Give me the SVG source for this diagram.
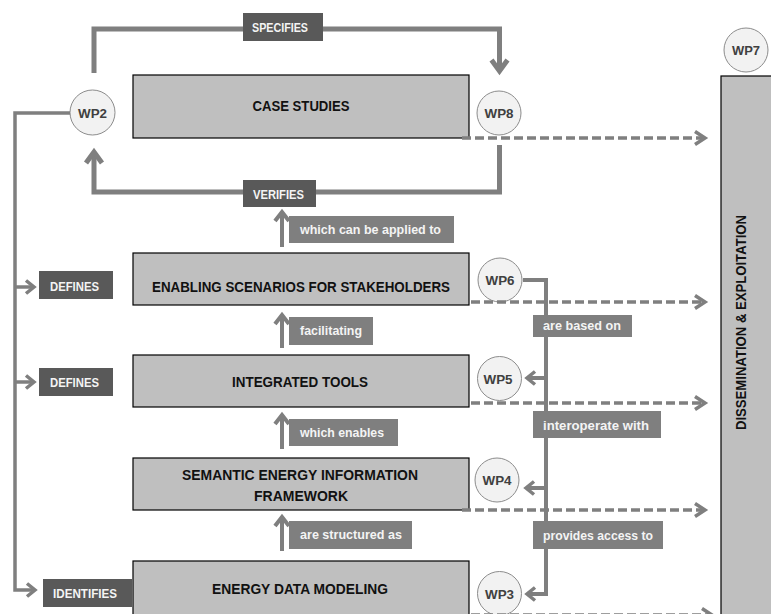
<svg xmlns="http://www.w3.org/2000/svg" width="771" height="614" viewBox="0 0 771 614">
<style>
.box{fill:#bfbfbf;stroke:#000;stroke-width:1.2}
.title{font-family:"Liberation Sans",Arial,sans-serif;font-weight:bold;font-size:14px;fill:#111;text-anchor:middle}
.wp circle{fill:#f2f2f2;stroke:#8c8c8c;stroke-width:1}
.wp text{font-family:"Liberation Sans",Arial,sans-serif;font-weight:bold;font-size:13.5px;fill:#404040;text-anchor:middle}
.ld rect{fill:#595959}
.lm rect{fill:#7f7f7f}
.lt{font-family:"Liberation Sans",Arial,sans-serif;font-weight:bold;font-size:13px;fill:#f4f4f4}
.c{fill:none;stroke:#7f7f7f}
.w5{stroke-width:5}
.w4{stroke-width:4}
.w35{stroke-width:3.5}
.dash{stroke-width:3.5;stroke-dasharray:9 4}
.mk{fill:none;stroke:#7f7f7f;stroke-linejoin:miter}
</style>
<defs>
<marker id="big" markerUnits="userSpaceOnUse" viewBox="-14 -12 20 24" markerWidth="20" markerHeight="24" refX="0" refY="0" orient="auto"><path class="mk" d="M-11,-8 L0,0 L-11,8" stroke-width="5"/></marker>
<marker id="mid" markerUnits="userSpaceOnUse" viewBox="-14 -12 20 24" markerWidth="20" markerHeight="24" refX="0" refY="0" orient="auto"><path class="mk" d="M-9,-7 L0,0 L-9,7" stroke-width="4"/></marker>
<marker id="dsh" markerUnits="userSpaceOnUse" viewBox="-14 -12 20 24" markerWidth="20" markerHeight="24" refX="0" refY="0" orient="auto"><path class="mk" d="M-10,-6.5 L0,0 L-10,6.5" stroke-width="3.5"/></marker>
<marker id="sml" markerUnits="userSpaceOnUse" viewBox="-14 -12 20 24" markerWidth="20" markerHeight="24" refX="0" refY="0" orient="auto"><path class="mk" d="M-8,-6.5 L0,0 L-8,6.5" stroke-width="3.5"/></marker>
</defs>
<rect width="771" height="614" fill="#fff"/>

<g id="case-studies"><rect class="box" x="133" y="75" width="336" height="63"/><text class="title" x="301" y="110.5" textLength="97" lengthAdjust="spacingAndGlyphs">CASE STUDIES</text></g>
<g id="enabling-scenarios"><rect class="box" x="133" y="253" width="336" height="52"/><text class="title" x="301" y="292" textLength="298" lengthAdjust="spacingAndGlyphs">ENABLING SCENARIOS FOR STAKEHOLDERS</text></g>
<g id="integrated-tools"><rect class="box" x="133" y="355" width="336" height="52"/><text class="title" x="300" y="387" textLength="136" lengthAdjust="spacingAndGlyphs">INTEGRATED TOOLS</text></g>
<g id="semantic-framework"><rect class="box" x="133" y="458" width="336" height="52"/><text class="title" x="300" y="480" textLength="236" lengthAdjust="spacingAndGlyphs">SEMANTIC ENERGY INFORMATION</text><text class="title" x="301" y="501" textLength="94" lengthAdjust="spacingAndGlyphs">FRAMEWORK</text></g>
<g id="energy-data-modeling"><rect class="box" x="133" y="561" width="336" height="60"/><text class="title" x="300" y="594" textLength="176" lengthAdjust="spacingAndGlyphs">ENERGY DATA MODELING</text></g>
<g id="dissemination"><rect class="box" x="721" y="76" width="60" height="550"/><text class="title" x="746" y="322.5" transform="rotate(-90 746 322.5)" textLength="215" lengthAdjust="spacingAndGlyphs">DISSEMINATION &amp; EXPLOITATION</text></g>

<g id="wp2" class="wp"><circle cx="92.5" cy="112.5" r="22.5"/><text x="92.5" y="117.5" textLength="29" lengthAdjust="spacingAndGlyphs">WP2</text></g>
<g id="wp8" class="wp"><circle cx="499" cy="113" r="22"/><text x="499" y="118" textLength="29" lengthAdjust="spacingAndGlyphs">WP8</text></g>
<g id="wp7" class="wp"><circle cx="746" cy="50" r="22"/><text x="746" y="55" textLength="28" lengthAdjust="spacingAndGlyphs">WP7</text></g>
<g id="wp6" class="wp"><circle cx="500" cy="280" r="22"/><text x="500" y="285" textLength="29" lengthAdjust="spacingAndGlyphs">WP6</text></g>
<g id="wp5" class="wp"><circle cx="499.5" cy="378.5" r="22"/><text x="498" y="383.5" textLength="29" lengthAdjust="spacingAndGlyphs">WP5</text></g>
<g id="wp4" class="wp"><circle cx="497" cy="480" r="22"/><text x="497" y="485" textLength="29" lengthAdjust="spacingAndGlyphs">WP4</text></g>
<g id="wp3" class="wp"><circle cx="499.5" cy="593.5" r="22"/><text x="499.5" y="598.5" textLength="29" lengthAdjust="spacingAndGlyphs">WP3</text></g>

<g id="connectors">
<path class="c w5" d="M94,73 V29 H499.5 V71" marker-end="url(#big)"/>
<path class="c w5" d="M499.5,145 V192 H94 V152" marker-end="url(#big)"/>
<path class="c w35" d="M70,113 H15 V590 H35" marker-end="url(#sml)"/>
<path class="c w35" d="M15,287 H34" marker-end="url(#sml)"/>
<path class="c w35" d="M15,382 H34" marker-end="url(#sml)"/>
<path class="c w4" d="M282,247 V212" marker-end="url(#mid)"/>
<path class="c w4" d="M282,348 V315" marker-end="url(#mid)"/>
<path class="c w4" d="M282,449 V415" marker-end="url(#mid)"/>
<path class="c w4" d="M282,551 V517" marker-end="url(#mid)"/>
<path class="c dash" d="M462,138 H705" marker-end="url(#dsh)"/>
<path class="c dash" d="M471,302 H705" marker-end="url(#dsh)"/>
<path class="c dash" d="M471,403 H705" marker-end="url(#dsh)"/>
<path class="c dash" d="M462,510 H705" marker-end="url(#dsh)"/>
<path class="c dash" d="M471,615 H712" marker-end="url(#dsh)"/>
<path class="c w4" d="M523,280 H546 V594 H527" marker-end="url(#sml)"/>
<path class="c w4" d="M546,378 H527" marker-end="url(#sml)"/>
<path class="c w4" d="M546,488 H526" marker-end="url(#sml)"/>
</g>

<g id="lbl-specifies" class="ld"><rect x="243" y="13" width="80" height="28"/><text class="lt" x="252" y="31.5" textLength="56" lengthAdjust="spacingAndGlyphs">SPECIFIES</text></g>
<g id="lbl-verifies" class="ld"><rect x="243" y="180" width="73" height="27"/><text class="lt" x="253" y="199" textLength="51" lengthAdjust="spacingAndGlyphs">VERIFIES</text></g>
<g id="lbl-defines-1" class="ld"><rect x="39" y="271" width="74" height="28"/><text class="lt" x="50" y="291" textLength="49" lengthAdjust="spacingAndGlyphs">DEFINES</text></g>
<g id="lbl-defines-2" class="ld"><rect x="39" y="368" width="74" height="28"/><text class="lt" x="50" y="386.5" textLength="49" lengthAdjust="spacingAndGlyphs">DEFINES</text></g>
<g id="lbl-identifies" class="ld"><rect x="43" y="579" width="89" height="28"/><text class="lt" x="53" y="598" textLength="64" lengthAdjust="spacingAndGlyphs">IDENTIFIES</text></g>
<g id="lbl-applied" class="lm"><rect x="289" y="216" width="165" height="27"/><text class="lt" x="300" y="234" textLength="141" lengthAdjust="spacingAndGlyphs">which can be applied to</text></g>
<g id="lbl-facilitating" class="lm"><rect x="289" y="317" width="84" height="28"/><text class="lt" x="300" y="335" textLength="62" lengthAdjust="spacingAndGlyphs">facilitating</text></g>
<g id="lbl-enables" class="lm"><rect x="289" y="419" width="109" height="27"/><text class="lt" x="300" y="437" textLength="84" lengthAdjust="spacingAndGlyphs">which enables</text></g>
<g id="lbl-structured" class="lm"><rect x="289" y="521" width="123" height="28"/><text class="lt" x="300" y="539" textLength="102" lengthAdjust="spacingAndGlyphs">are structured as</text></g>
<g id="lbl-based" class="lm"><rect x="533" y="315" width="99" height="22"/><text class="lt" x="543" y="330" textLength="78" lengthAdjust="spacingAndGlyphs">are based on</text></g>
<g id="lbl-interoperate" class="lm"><rect x="533" y="411" width="128" height="27"/><text class="lt" x="543" y="429.5" textLength="106" lengthAdjust="spacingAndGlyphs">interoperate with</text></g>
<g id="lbl-access" class="lm"><rect x="533" y="521" width="130" height="28"/><text class="lt" x="543" y="540" textLength="110" lengthAdjust="spacingAndGlyphs">provides access to</text></g>
</svg>
